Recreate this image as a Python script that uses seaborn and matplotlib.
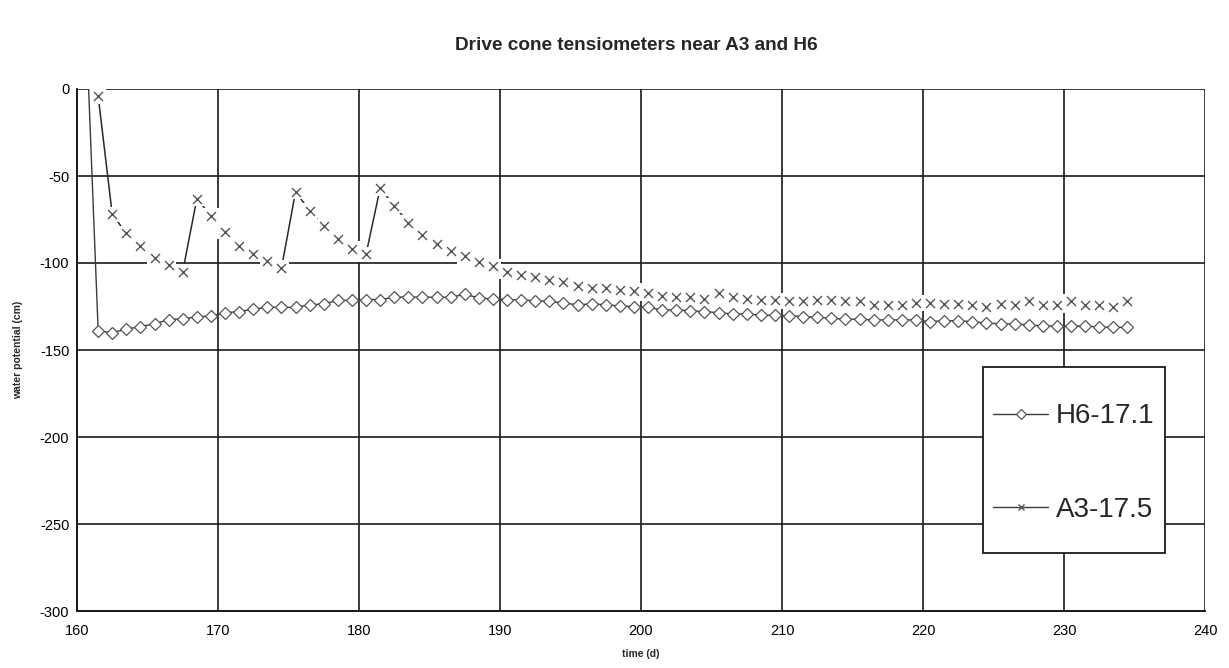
import numpy as np
import pandas as pd
import matplotlib
matplotlib.use("Agg")
import matplotlib.pyplot as plt
from matplotlib.lines import Line2D
from matplotlib.patches import Rectangle
import seaborn as sns

# ---- data -------------------------------------------------------------
days = [161.5, 162.5, 163.5, 164.5, 165.5, 166.5, 167.5, 168.5, 169.5, 170.5,
        171.5, 172.5, 173.5, 174.5, 175.5, 176.5, 177.5, 178.5, 179.5, 180.5,
        181.5, 182.5, 183.5, 184.5, 185.5, 186.5, 187.5, 188.5, 189.5, 190.5,
        191.5, 192.5, 193.5, 194.5, 195.5, 196.5, 197.5, 198.5, 199.5, 200.5,
        201.5, 202.5, 203.5, 204.5, 205.5, 206.5, 207.5, 208.5, 209.5, 210.5,
        211.5, 212.5, 213.5, 214.5, 215.5, 216.5, 217.5, 218.5, 219.5, 220.5,
        221.5, 222.5, 223.5, 224.5, 225.5, 226.5, 227.5, 228.5, 229.5, 230.5,
        231.5, 232.5, 233.5, 234.5]

h6_start = (160.8, 5.0)      # installation reading (off scale)
h6_values = [-139, -140, -138, -136.5, -135, -132.5, -132, -131, -130.5, -128.5,
             -128, -126.5, -125.5, -125.5, -125.5, -124, -123.5, -121.5, -121.5, -121,
             -121, -119.7, -119.5, -119.7, -119.7, -119.7, -118, -120, -120.7, -121,
             -121.3, -121.7, -122, -123, -124, -123.5, -124, -124.7, -125, -125.5,
             -127, -127, -127.4, -128, -128.5, -129.3, -129.3, -130, -130, -130.3,
             -130.8, -131.2, -131.8, -132.3, -132.3, -132.7, -132.7, -132.7, -132.7, -133.7,
             -133.2, -133.2, -133.7, -134.5, -135, -135, -135.6, -136.2, -136.2, -136.2,
             -136.2, -136.8, -137, -137]

a3_start = (161.3, 4.0)      # installation reading (off scale)
a3_values = [-4, -72, -83, -90, -97, -101, -105, -63, -73, -82,
             -90, -95, -99, -103, -59, -70, -79, -86, -92, -95,
             -57, -67, -77, -84, -89, -93, -96, -99.5, -102, -105,
             -107, -108, -110, -111, -113, -114.5, -114.5, -115.5, -116, -117.5,
             -119, -119.5, -119.5, -120.5, -117, -119.5, -120.5, -121.5, -121.5, -122,
             -122, -121.5, -121.5, -122, -122, -124, -124, -124, -123, -123,
             -123.5, -123.5, -124, -125, -123.5, -124, -122, -124, -124, -122,
             -124, -124, -125, -122]

series_names = ["H6-17.1", "A3-17.5"]
x_ticks = [160, 170, 180, 190, 200, 210, 220, 230, 240]
y_ticks = [-300, -250, -200, -150, -100, -50, 0]

h6 = pd.DataFrame({"time": [h6_start[0]] + days,
                   "potential": [h6_start[1]] + h6_values})
a3 = pd.DataFrame({"time": [a3_start[0]] + days,
                   "potential": [a3_start[1]] + a3_values})

# ---- style ------------------------------------------------------------
sns.set_style("white")
plt.rcParams["font.family"] = ["Liberation Sans", "DejaVu Sans"]

fig = plt.figure(figsize=(12.29, 6.68), dpi=100)
ax = fig.add_axes([77 / 1229, 1 - 611 / 668, (1205 - 77) / 1229, (611 - 89) / 668])

ink = "#1a1a1a"
mark = "#555555"

# H6: line with white-filled diamonds
sns.lineplot(data=h6, x="time", y="potential", ax=ax, estimator=None, sort=False,
             color="#3a3a3a", linewidth=1.0, marker="D", markersize=6,
             markerfacecolor="white", markeredgecolor=mark, markeredgewidth=0.9,
             zorder=3)

# A3: thin line, white marker backgrounds, then crosses on top
sns.lineplot(data=a3, x="time", y="potential", ax=ax, estimator=None, sort=False,
             color="#2a2a2a", linewidth=1.1, zorder=2)
sns.scatterplot(data=a3, x="time", y="potential", ax=ax, marker="s", s=125,
                color="white", edgecolor="none", linewidth=0, zorder=2.5)
sns.scatterplot(data=a3, x="time", y="potential", ax=ax, marker="x", s=42,
                color=mark, linewidth=1.0, zorder=4)

# ---- axes -------------------------------------------------------------
ax.set_xlim(x_ticks[0], x_ticks[-1])
ax.set_ylim(y_ticks[0], y_ticks[-1])
ax.set_xticks(x_ticks)
ax.set_yticks(y_ticks)
ax.set_xticklabels([str(v) for v in x_ticks])
ax.set_yticklabels([str(v) for v in y_ticks])

ax.grid(True, color=ink, linewidth=1.2, zorder=0.5)
ax.set_axisbelow(True)
for side in ("top", "right"):
    ax.spines[side].set_visible(False)
for side in ("left", "bottom"):
    ax.spines[side].set_color(ink)
    ax.spines[side].set_linewidth(1.4)

ax.tick_params(axis="both", which="major", direction="out", length=3.5,
               width=1.2, color=ink, labelsize=10.5, labelcolor="black")
ax.tick_params(axis="x", pad=6)
ax.tick_params(axis="y", pad=2)

ax.set_xlabel("time (d)", fontsize=7.5, fontweight="bold", labelpad=8)
ax.set_ylabel("water potential (cm)", fontsize=7.5, fontweight="bold", labelpad=12)

fig.text(0.518, 1 - 45 / 668, "Drive cone tensiometers near A3 and H6",
         ha="center", va="center", fontsize=13.7, fontweight="bold")

# ---- legend -----------------------------------------------------------
# boxed key in the lower right of the plot area
box_x0, box_y0, box_w, box_h = 0.8032, 0.1111, 0.1613, 0.3563
ax.add_patch(Rectangle((box_x0, box_y0), box_w, box_h, transform=ax.transAxes,
                       facecolor="white", edgecolor=ink, linewidth=1.3,
                       zorder=9))

handles = [
    Line2D([], [], color="#3a3a3a", linewidth=1.0, marker="D", markersize=5,
           markerfacecolor="white", markeredgecolor=mark, markeredgewidth=0.9),
    Line2D([], [], color="#3a3a3a", linewidth=1.0, marker="x", markersize=5,
           markeredgecolor=mark, markeredgewidth=1.0),
]
leg = ax.legend(handles, series_names, loc="center",
                bbox_to_anchor=(box_x0 + box_w / 2, box_y0 + box_h / 2 - 0.0057),
                borderaxespad=0, fontsize=20, frameon=False,
                borderpad=0, handlelength=1.95, handletextpad=0.3,
                labelspacing=2.42)
leg.set_zorder(10)

fig.savefig("out.png", dpi=100)
